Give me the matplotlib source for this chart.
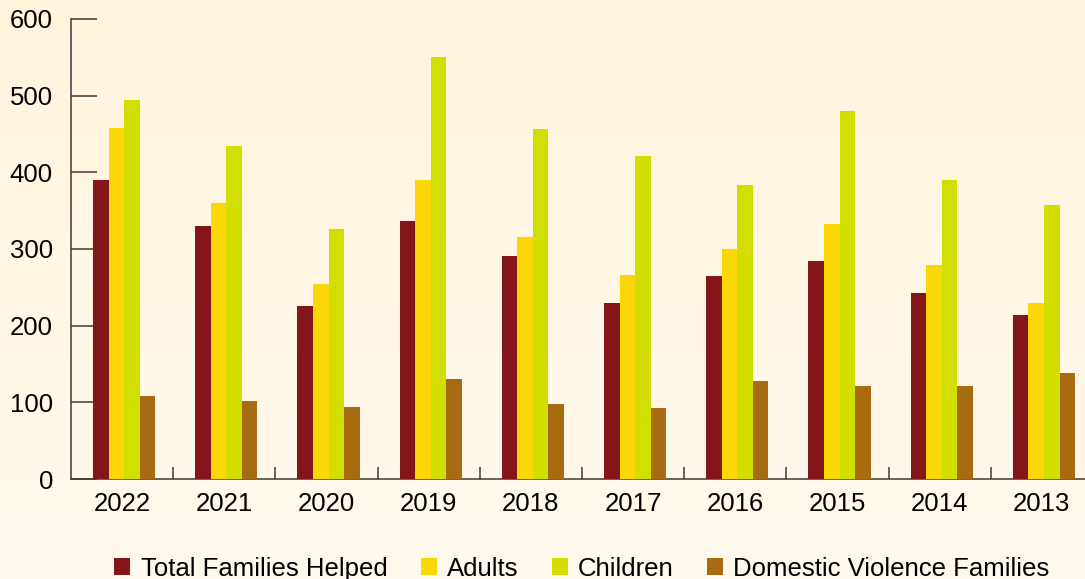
import numpy as np
import matplotlib
matplotlib.use('Agg')
import matplotlib.pyplot as plt
from matplotlib.ticker import FixedLocator

years = ['2022', '2021', '2020', '2019', '2018', '2017', '2016', '2015', '2014', '2013']
total_families = [390, 330, 226, 336, 291, 229, 265, 284, 242, 214]
adults = [458, 360, 254, 390, 316, 266, 300, 332, 279, 229]
children = [494, 434, 326, 550, 456, 421, 383, 480, 390, 357]
dv_families = [108, 102, 94, 130, 98, 93, 128, 121, 121, 138]

series = [('Total Families Helped', total_families, '#84161a'),
          ('Adults', adults, '#fbd705'),
          ('Children', children, '#d1de00'),
          ('Domestic Violence Families', dv_families, '#a86b12')]

plt.rcParams['font.family'] = ['Liberation Sans', 'DejaVu Sans']

fig = plt.figure(figsize=(10.85, 5.79), dpi=100)

# cream gradient background
bg = fig.add_axes([0, 0, 1, 1], zorder=-10)
grad = np.linspace(0, 1, 256).reshape(-1, 1)
c_top = np.array([255, 244, 220]) / 255.0
c_bot = np.array([255, 249, 238]) / 255.0
img = c_top[None, None, :] * (1 - grad[:, :, None]) + c_bot[None, None, :] * grad[:, :, None]
bg.imshow(img, aspect='auto', extent=[0, 1, 0, 1])
bg.axis('off')

ax = fig.add_axes([0.0654, 0.1727, 0.942, 0.7945])
ax.patch.set_alpha(0)

x = np.arange(len(years))
w = 0.152
for i, (name, vals, col) in enumerate(series):
    ax.bar(x + (i - 1.5) * w + 0.02, vals, width=w, color=col, label=name, zorder=3)

ax.set_xlim(-0.5, len(years) - 0.5)
ax.set_ylim(0, 600)
ax.set_yticks(np.arange(0, 601, 100))
ax.set_xticks(x)
ax.set_xticklabels(years)
ax.xaxis.set_minor_locator(FixedLocator(np.arange(0.5, len(years) - 0.5, 1)))

ax.spines['right'].set_visible(False)
ax.spines['top'].set_visible(False)
for s in ['left', 'bottom']:
    ax.spines[s].set_color('#3a3a3a')
    ax.spines[s].set_linewidth(1.1)

ax.tick_params(axis='y', direction='in', length=19, width=1.1, color='#3a3a3a',
               labelsize=18.5, pad=13)
ax.tick_params(axis='x', which='major', length=0, labelsize=18.5, pad=9)
ax.tick_params(axis='x', which='minor', direction='in', length=8.6, width=1.1, color='#3a3a3a')

leg = ax.legend(loc='upper center', bbox_to_anchor=(0.5, -0.13), ncol=4, frameon=False,
                fontsize=18.5, handlelength=0.62, handleheight=0.62, handletextpad=0.4,
                columnspacing=1.3, borderpad=0.2)

plt.savefig('out.png', dpi=100)
